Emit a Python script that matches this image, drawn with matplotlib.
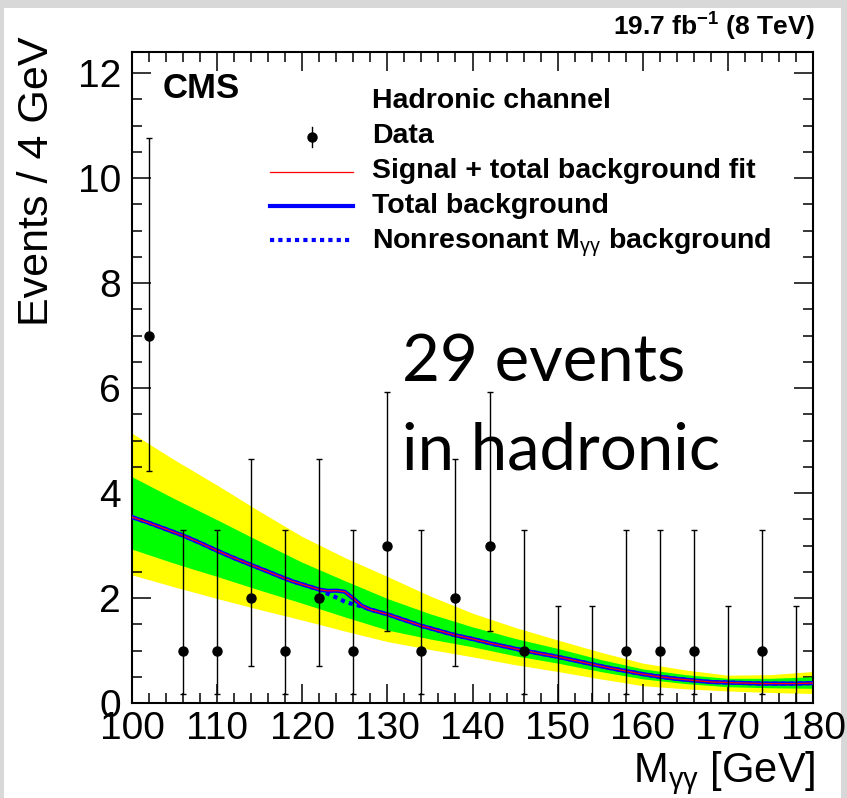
import numpy as np
import matplotlib
matplotlib.use("Agg")
import matplotlib.pyplot as plt
from matplotlib.patches import Rectangle
from matplotlib.lines import Line2D
from matplotlib.ticker import MultipleLocator

# ---------------- data ----------------
bin_centers = [102, 106, 110, 114, 118, 122, 126, 130, 134, 138,
               142, 146, 150, 154, 158, 162, 166, 170, 174, 178]
events = [7, 1, 1, 2, 1, 2, 1, 3, 1, 2, 3, 1, 0, 0, 1, 1, 1, 0, 1, 0]
err_low_edge = [4.42, 0.17, 0.17, 0.71, 0.17, 0.71, 0.17, 1.37, 0.17, 0.71,
                1.37, 0.17, 0.0, 0.0, 0.17, 0.17, 0.17, 0.0, 0.17, 0.0]
err_high_edge = [10.77, 3.30, 3.30, 4.64, 3.30, 4.64, 3.30, 5.92, 3.30, 4.64,
                 5.92, 3.30, 1.84, 1.84, 3.30, 3.30, 3.30, 1.84, 3.30, 1.84]

curve_mass = [100, 102, 104, 106, 108, 110, 112, 114, 116, 118, 119, 120, 121,
              122, 123, 124, 125, 126, 127, 128, 130, 132, 134, 136, 138, 140,
              142, 144, 146, 148, 150, 152, 154, 156, 158, 160, 162, 164, 166,
              168, 170, 172, 174, 176, 178, 180]
total_bkg = [3.54, 3.43, 3.31, 3.19, 3.05, 2.90, 2.76, 2.63, 2.50, 2.37, 2.31,
             2.26, 2.21, 2.16, 2.135, 2.14, 2.12, 1.99, 1.85, 1.78, 1.69, 1.58,
             1.47, 1.38, 1.29, 1.22, 1.14, 1.07, 1.00, 0.94, 0.88, 0.81, 0.74,
             0.67, 0.61, 0.55, 0.50, 0.46, 0.43, 0.40, 0.39, 0.38, 0.37, 0.37,
             0.37, 0.38]
sig_plus_bkg = [3.54, 3.43, 3.31, 3.19, 3.05, 2.90, 2.76, 2.63, 2.50, 2.37, 2.31,
                2.26, 2.21, 2.16, 2.135, 2.14, 2.12, 1.99, 1.85, 1.78, 1.69, 1.58,
                1.47, 1.38, 1.29, 1.22, 1.14, 1.07, 1.00, 0.94, 0.88, 0.81, 0.74,
                0.67, 0.61, 0.55, 0.50, 0.46, 0.43, 0.40, 0.39, 0.38, 0.37, 0.37,
                0.37, 0.38]
nonres_bkg = [3.54, 3.43, 3.31, 3.19, 3.05, 2.90, 2.76, 2.63, 2.50, 2.37, 2.31,
              2.26, 2.21, 2.16, 2.08, 2.01, 1.93, 1.88, 1.84, 1.78, 1.69, 1.58,
              1.47, 1.38, 1.29, 1.22, 1.14, 1.07, 1.00, 0.94, 0.88, 0.81, 0.74,
              0.67, 0.61, 0.55, 0.50, 0.46, 0.43, 0.40, 0.39, 0.38, 0.37, 0.37,
              0.37, 0.38]

band_mass = [100, 105, 110, 115, 120, 125, 130, 135, 140, 145, 150, 155, 160,
             165, 170, 175, 180]
band2_hi = [5.14, 4.63, 4.15, 3.65, 3.17, 2.77, 2.41, 2.04, 1.71, 1.44, 1.20,
            0.97, 0.76, 0.63, 0.53, 0.54, 0.60]
band1_hi = [4.31, 3.89, 3.49, 3.08, 2.68, 2.33, 1.99, 1.70, 1.45, 1.23, 1.04,
            0.83, 0.65, 0.54, 0.47, 0.47, 0.50]
band1_lo = [2.93, 2.66, 2.41, 2.15, 1.90, 1.64, 1.39, 1.22, 1.07, 0.90, 0.76,
            0.60, 0.46, 0.37, 0.31, 0.29, 0.28]
band2_lo = [2.44, 2.21, 1.99, 1.78, 1.58, 1.37, 1.17, 1.02, 0.88, 0.73, 0.60,
            0.46, 0.33, 0.27, 0.23, 0.20, 0.18]

legend_labels = ["Data", "Signal + total background fit", "Total background",
                 r"Nonresonant M$_{\mathrm{γγ}}$ background"]

# ---------------- styling ----------------
plt.rcParams['font.family'] = ['Liberation Sans', 'DejaVu Sans']
plt.rcParams['mathtext.fontset'] = 'custom'
plt.rcParams['mathtext.rm'] = 'Liberation Sans'
plt.rcParams['mathtext.it'] = 'Liberation Sans:italic'
plt.rcParams['mathtext.bf'] = 'Liberation Sans:bold'

W, H = 847, 798
fig = plt.figure(figsize=(W / 100, H / 100), dpi=100)
fig.patch.set_facecolor('#d8d8d8')
fig.add_artist(Rectangle((4 / W, 0), (841 - 4) / W, 1 - 8 / H,
                         transform=fig.transFigure, facecolor='white',
                         edgecolor='none', zorder=-10))

L, R, T, B = 132, 813, 52, 703
ax = fig.add_axes([L / W, 1 - B / H, (R - L) / W, (B - T) / H])
ax.set_xlim(100, 180)
ax.set_ylim(0, 12.4)

x = np.array(bin_centers, float)
y = np.array(events, float)
lo = np.array(err_low_edge)
hi = np.array(err_high_edge)

ax.fill_between(band_mass, band2_lo, band2_hi, color='#ffff00', lw=0, zorder=1)
ax.fill_between(band_mass, band1_lo, band1_hi, color='#00ff00', lw=0, zorder=2)
ax.plot(curve_mass, nonres_bkg, color='#0000ff', lw=3, ls=(0, (1, 1)), zorder=3)
ax.plot(curve_mass, total_bkg, color='#0000ff', lw=3, zorder=4,
        solid_joinstyle='round')
ax.plot(curve_mass, sig_plus_bkg, color='#ff0000', lw=0.9, zorder=5)

nz = y > 0
ax.errorbar(x[nz], y[nz], yerr=[y[nz] - lo[nz], hi[nz] - y[nz]], fmt='o',
            color='black', ms=6.5, elinewidth=1.0, capsize=2, capthick=1.0,
            zorder=6)
ax.errorbar(x[~nz], y[~nz], yerr=[y[~nz] - lo[~nz], hi[~nz] - y[~nz]],
            fmt='none', ecolor='black', elinewidth=1.0, capsize=2,
            capthick=1.0, zorder=6)

# axes / ticks
for s in ax.spines.values():
    s.set_linewidth(1.5)
ax.xaxis.set_major_locator(MultipleLocator(10))
ax.xaxis.set_minor_locator(MultipleLocator(2))
ax.yaxis.set_major_locator(MultipleLocator(2))
ax.yaxis.set_minor_locator(MultipleLocator(0.5))
ax.tick_params(which='both', direction='in', top=True, right=True, width=1.1)
ax.tick_params(which='major', length=14, labelsize=28)
ax.tick_params(which='minor', length=7)
ax.tick_params(axis='x', which='major', pad=6)
ax.tick_params(axis='y', which='major', pad=8)

fig.text(37 / W, 1 - 36 / H, "Events / 4 GeV", rotation=90, ha='center',
         va='top', fontsize=31)
fig.text(815 / W, 1 - 782 / H, r"M$_{\mathrm{γγ}}$ [GeV]", ha='right',
         va='baseline', fontsize=30)
fig.text(815 / W, 1 - 36 / H, r"19.7 fb$^{\mathbf{-1}}$ (8 TeV)", ha='right',
         va='baseline', fontsize=19, fontweight='bold')

ax.text((163 - L) / (R - L), (B - 98) / (B - T), "CMS", transform=ax.transAxes,
        fontsize=25, fontweight='bold', va='baseline', ha='left')

# legend (manual)
def fx(px):
    return (px - L) / (R - L)

def fy(py):
    return (B - py) / (B - T)

tx = fx(372)
ax.text(tx, fy(108.3), "Hadronic channel", transform=ax.transAxes,
        fontsize=20.5, fontweight='bold', va='baseline')
baselines = [143.3, 178.3, 213.3, 248.3]
for lab, bl in zip(legend_labels, baselines):
    ax.text(tx, fy(bl), lab, transform=ax.transAxes, fontsize=20.5,
            fontweight='bold', va='baseline')
# data marker
ax.add_line(Line2D([fx(312), fx(312)], [fy(126.5), fy(146.5)],
                   transform=ax.transAxes, color='black', lw=1.0))
ax.add_line(Line2D([fx(312)], [fy(136.5)], transform=ax.transAxes,
                   marker='o', ms=6.5, color='black', ls='none'))
ax.add_line(Line2D([fx(270), fx(353)], [fy(171.7), fy(171.7)],
                   transform=ax.transAxes, color='#ff0000', lw=0.9))
ax.add_line(Line2D([fx(270), fx(353)], [fy(205.5), fy(205.5)],
                   transform=ax.transAxes, color='#0000ff', lw=3))
ax.add_line(Line2D([fx(270), fx(353)], [fy(240), fy(240)],
                   transform=ax.transAxes, color='#0000ff', lw=3,
                   ls=(0, (1, 1))))

ax.text(fx(402), fy(382), "29 events", transform=ax.transAxes, fontsize=47,
        family='Lato', va='baseline', zorder=7)
ax.text(fx(402), fy(470), "in hadronic", transform=ax.transAxes, fontsize=47,
        family='Lato', va='baseline', zorder=7)

fig.savefig("out.png", dpi=100, facecolor=fig.get_facecolor())
